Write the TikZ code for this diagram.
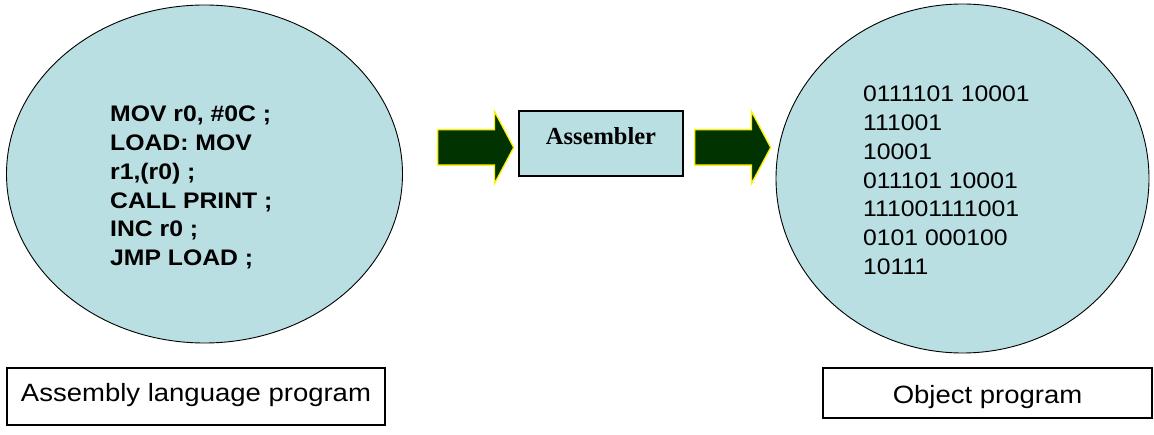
\documentclass[tikz,border=0pt]{standalone}
\usepackage{fontspec}
\setmainfont{Liberation Sans}[FakeStretch=1.1]
\newfontfamily\asmfont{Liberation Serif}
\usepackage{tikz}
\usetikzlibrary{shapes.geometric,shapes.arrows,positioning}
\definecolor{paleblue}{RGB}{185,223,227}
\definecolor{darkgreen}{RGB}{0,51,0}

\begin{document}
\begin{tikzpicture}
	[x=1pt, y=-1pt, inner sep=0pt,
	program/.style	= {ellipse, draw, fill=paleblue, line width=0.9pt, minimum width=396pt, minimum height=338pt},
	tool/.style	= {rectangle, draw, fill=paleblue, line width=1.4pt, minimum width=164pt, text height=34pt, text depth=31pt, font=\asmfont\bfseries\fontsize{24.5}{29}\selectfont},
	caption/.style	= {rectangle, draw, line width=1.4pt, font=\fontsize{25}{30}\selectfont},
	code/.style	= {anchor=base west, align=left, font=\fontsize{22.5}{28.8}\selectfont},
	flow/.style	= {single arrow, draw=yellow, fill=darkgreen, line width=1.3pt, minimum height=76pt, text height=34pt, text depth=0pt,
		single arrow head extend=18.5pt, single arrow head indent=0pt, single arrow tip angle=124}]
	
	\useasboundingbox (0, 0) rectangle (1154, 435);
	
	\node at (204.5, 174)	[program]	(asm)	{};
	\node at (962.5, 178.5)	[program, minimum width=373pt, minimum height=349pt]	(obj)	{};
	
	% base of a multi-line node is its last line
	\node at (110, 265.7)	[code, font=\bfseries\fontsize{22.5}{28.8}\selectfont]	(asmcode)
		{MOV r0, \#0C ;\\LOAD: MOV\\r1,(r0) ;\\CALL PRINT ;\\INC r0 ;\\JMP LOAD ;};
	\node at (863, 274.5)	[code]	(objcode)
		{0111101 10001\\111001\\10001\\011101 10001\\111001111001\\0101 000100\\10111};
	
	\node at (601, 143.5)	[tool]	(assembler)	{Assembler};
	
	\node at (471, 147.5)	[flow]	(into)	{};
	\node at (728, 147.5)	[flow]	(outof)	{};
	
	\node at (196, 396.5)	[caption, minimum width=378pt, text height=34pt, text depth=23pt]	(asmlabel)	{Assembly language program};
	\node at (987.5, 393)	[caption, minimum width=329pt, text height=36pt, text depth=14pt]	(objlabel)	{Object program};
\end{tikzpicture}
\end{document}
